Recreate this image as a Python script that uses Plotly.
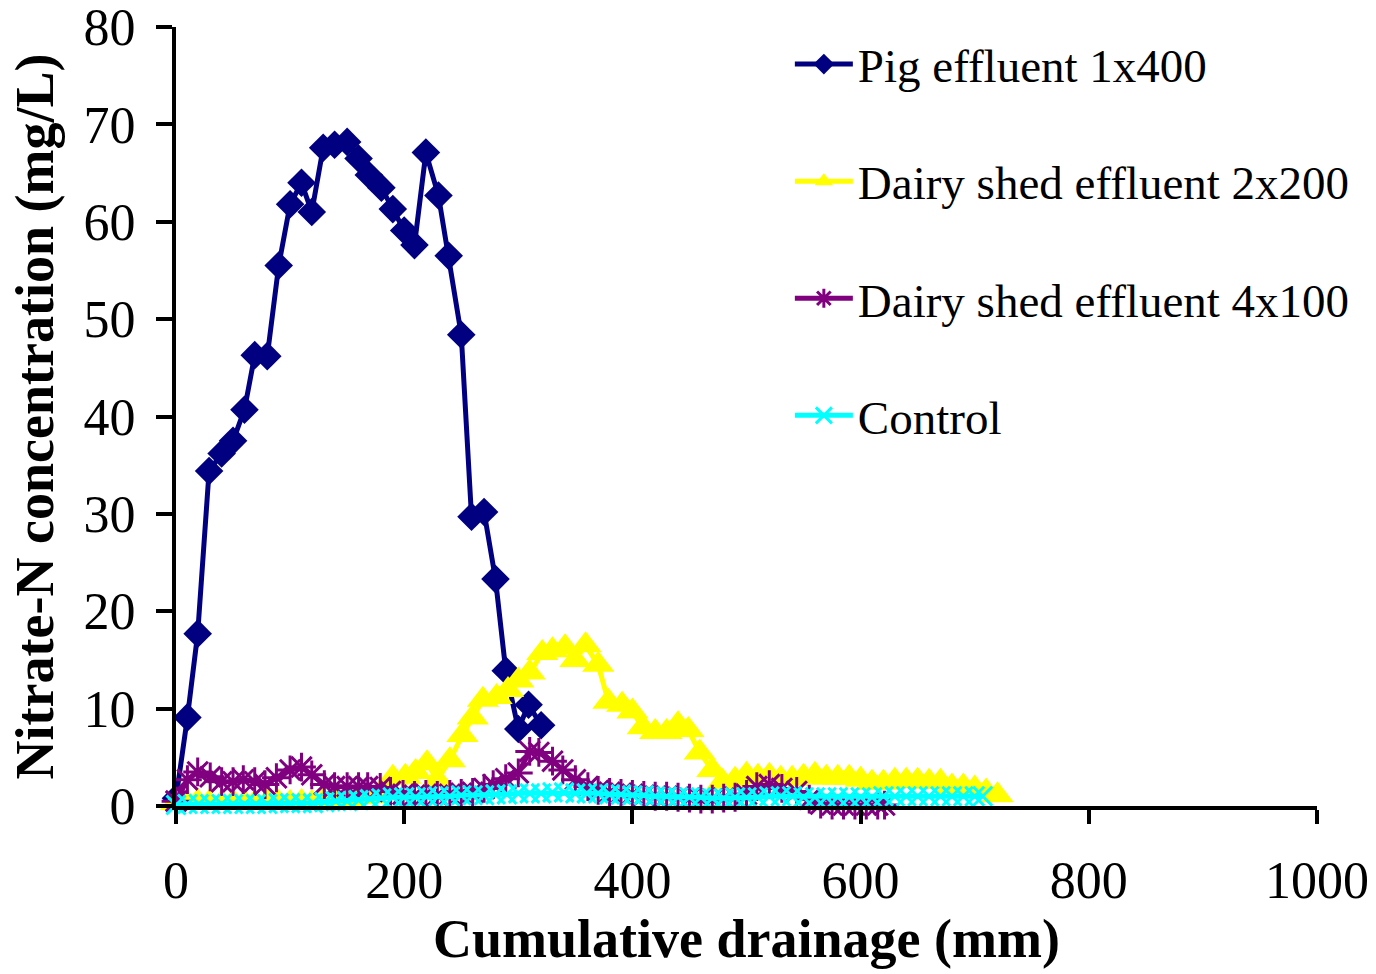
import plotly.graph_objects as go

# Cumulative drainage (mm) and nitrate-N concentration (mg/L) per treatment
pig_x = [0, 10, 19, 29, 40, 50, 60, 69, 80, 90, 100, 110, 119, 129, 139, 150, 160,
         169, 180, 190, 200, 209, 219, 230, 239, 250, 259, 270, 280, 289, 300, 309, 320]
pig_y = [0.8, 9.1, 17.7, 34.4, 36.2, 37.5, 40.7, 46.3, 46.2, 55.5, 61.8, 64.0, 61.0,
         67.6, 67.9, 68.2, 66.5, 64.8, 63.5, 61.3, 59.1, 57.6, 67.1, 62.7, 56.5, 48.4,
         29.7, 30.2, 23.3, 13.9, 7.9, 10.4, 8.3]

dairy2_x = [0, 10, 19, 29, 40, 50, 60, 69, 80, 90, 100, 110, 119, 129, 139, 150, 160,
            169, 180, 190, 201, 210, 220, 229, 240, 251, 260, 269, 281, 291, 300, 310,
            321, 330, 341, 350, 359, 370, 379, 391, 400, 409, 420, 430, 440, 449, 459,
            470, 479, 490, 500, 510, 520, 530, 540, 550, 560, 570, 580, 590, 600, 610,
            620, 630, 640, 650, 660, 670, 680, 690, 700, 710, 720]
dairy2_y = [0.3, 0.3, 0.4, 0.3, 0.3, 0.4, 0.3, 0.3, 0.4, 0.3, 0.3, 0.4, 0.3, 0.5, 0.6,
            0.7, 0.9, 1.0, 1.5, 2.9, 3.0, 3.5, 4.4, 2.7, 4.7, 7.3, 9.1, 10.9, 11.2, 11.9,
            12.9, 13.7, 15.7, 16.0, 16.3, 15.0, 16.5, 14.5, 10.7, 10.4, 9.7, 8.1, 7.6,
            7.6, 8.4, 7.8, 5.5, 3.7, 2.5, 2.7, 3.2, 3.0, 3.1, 2.8, 2.8, 3.0, 3.2, 2.9,
            2.9, 2.9, 2.7, 2.4, 2.4, 2.6, 2.6, 2.6, 2.5, 2.5, 2.0, 2.0, 1.8, 1.5, 1.1]

dairy4_x = [0, 10, 19, 30, 40, 50, 59, 69, 78, 88, 100, 110, 119, 130, 139, 150, 160,
            168, 179, 188, 199, 209, 219, 229, 240, 250, 260, 270, 278, 289, 300, 310,
            318, 330, 339, 350, 361, 370, 380, 390, 400, 410, 420, 430, 440, 450, 460,
            470, 480, 490, 500, 509, 520, 531, 544, 555, 565, 575, 585, 595, 605, 615,
            621]
dairy4_y = [0.5, 2.7, 3.5, 3.0, 2.5, 2.5, 2.7, 2.5, 2.2, 2.9, 3.7, 4.0, 3.2, 2.2, 2.0,
            2.0, 2.0, 2.0, 1.9, 1.5, 1.2, 1.1, 1.2, 1.1, 1.2, 1.3, 1.4, 1.8, 2.2, 2.8,
            3.4, 5.6, 5.5, 4.6, 3.7, 2.7, 2.0, 1.6, 1.4, 1.3, 1.2, 1.1, 1.0, 1.0, 0.9,
            0.8, 0.7, 0.7, 0.8, 0.9, 1.2, 2.0, 2.2, 1.8, 1.5, 0.7, 0.2, 0.1, 0.1, 0.1,
            0.1, 0.1, 0.1]

control_x = [0, 10, 20, 30, 40, 50, 60, 70, 80, 90, 100, 110, 120, 130, 140, 150, 160,
             170, 180, 190, 200, 210, 220, 230, 240, 250, 260, 270, 280, 290, 300, 310,
             320, 330, 340, 350, 360, 370, 380, 390, 400, 410, 420, 430, 440, 450, 460,
             470, 480, 490, 500, 510, 520, 530, 540, 550, 560, 570, 580, 590, 600, 610,
             620, 630, 640, 650, 660, 670, 680, 690, 700, 707]
control_y = [0.1, 0.2, 0.2, 0.2, 0.2, 0.2, 0.2, 0.2, 0.2, 0.3, 0.3, 0.3, 0.3, 0.4, 0.5,
             0.5, 0.6, 0.7, 0.8, 0.9, 0.9, 0.9, 1.0, 1.0, 1.0, 1.1, 1.1, 1.1, 1.2, 1.2,
             1.3, 1.3, 1.3, 1.4, 1.4, 1.3, 1.3, 1.3, 1.2, 1.2, 1.1, 1.1, 1.0, 1.0, 0.9,
             0.9, 0.9, 0.8, 0.8, 0.9, 0.9, 0.9, 1.0, 1.0, 1.0, 0.9, 0.9, 0.9, 0.9, 0.9,
             0.9, 0.9, 1.0, 1.0, 1.0, 1.0, 1.0, 1.0, 1.0, 1.0, 1.0, 1.0]

series_names = ["Pig effluent 1x400", "Dairy shed effluent 2x200",
                "Dairy shed effluent 4x100", "Control"]
x_ticks = [0, 200, 400, 600, 800, 1000]
y_ticks = [0, 10, 20, 30, 40, 50, 60, 70, 80]

FONT = "Liberation Serif"

fig = go.Figure()

fig.add_trace(go.Scatter(
    x=pig_x, y=pig_y, name=series_names[0], mode="lines+markers", legendgroup="a",
    cliponaxis=False,
    line=dict(color="#000080", width=5),
    marker=dict(symbol="diamond", size=22, color="#000080"),
))
fig.add_trace(go.Scatter(
    x=dairy2_x, y=dairy2_y, name=series_names[1], mode="lines+markers", legendgroup="b",
    cliponaxis=False,
    line=dict(color="#FFFF00", width=5),
    marker=dict(symbol="triangle-up", size=28, color="#FFFF00"),
))
fig.add_trace(go.Scatter(
    x=dairy4_x, y=dairy4_y, name=series_names[2], mode="lines+markers", legendgroup="c",
    cliponaxis=False,
    line=dict(color="#800080", width=5),
    marker=dict(symbol="asterisk-open", size=24, color="#800080",
                line=dict(color="#800080", width=3)),
))
fig.add_trace(go.Scatter(
    x=control_x, y=control_y, name=series_names[3], mode="lines+markers", legendgroup="d",
    cliponaxis=False,
    line=dict(color="#00FFFF", width=5),
    marker=dict(symbol="x-thin-open", size=19, color="#00FFFF",
                line=dict(color="#00FFFF", width=3)),
))

fig.update_layout(
    width=1376, height=974,
    margin=dict(l=176, r=59, t=27, b=168),
    paper_bgcolor="white", plot_bgcolor="white",
    font=dict(family=FONT, size=48, color="black"),
    showlegend=True,
    legend=dict(
        x=0.538, y=1.0, xanchor="left", yanchor="top",
        font=dict(family=FONT, size=47, color="black"),
        tracegroupgap=53, traceorder="grouped",
        bgcolor="rgba(0,0,0,0)", itemwidth=58,
    ),
    xaxis=dict(
        range=[0, 1000], tickvals=x_ticks, ticktext=[str(v) for v in x_ticks],
        automargin=False, ticklabeloverflow="allow",
        showgrid=False, zeroline=False, showline=True, linecolor="black", linewidth=4,
        ticks="outside", ticklen=14, tickwidth=4, tickcolor="black",
        tickfont=dict(family=FONT, size=52), ticklabelstandoff=12,
        title=dict(text="Cumulative drainage (mm)", standoff=10,
                   font=dict(family=FONT, size=54, weight="bold")),
    ),
    yaxis=dict(
        range=[0, 80], tickvals=y_ticks, ticktext=[str(v) for v in y_ticks],
        automargin=False, ticklabeloverflow="allow",
        showgrid=False, zeroline=False, showline=True, linecolor="black", linewidth=4,
        ticks="outside", ticklen=16, tickwidth=4, tickcolor="black",
        tickfont=dict(family=FONT, size=52), ticklabelstandoff=10,
        title=dict(text="Nitrate-N concentration (mg/L)", standoff=14,
                   font=dict(family=FONT, size=54, weight="bold")),
    ),
)

fig.write_html("out.html")
